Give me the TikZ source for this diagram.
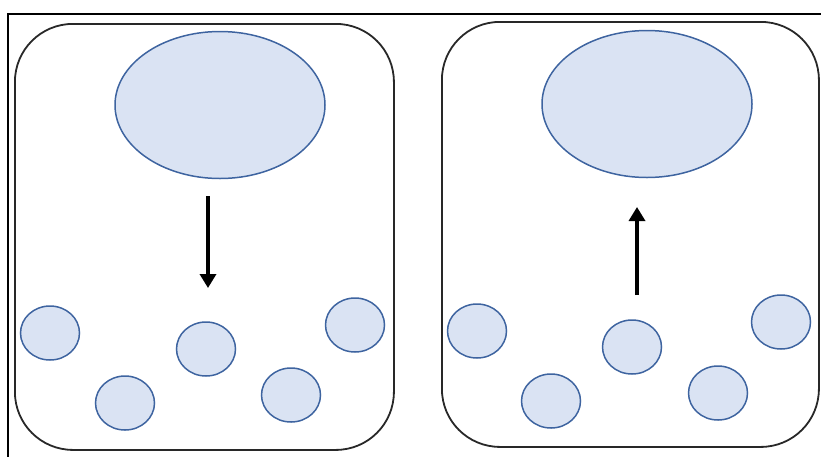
\documentclass[tikz,border=0pt]{standalone}
\usetikzlibrary{shapes.geometric,arrows.meta}
\definecolor{cellfill}{RGB}{218,227,243}
\definecolor{cellline}{RGB}{62,100,160}
\definecolor{boxline}{RGB}{40,40,40}
\tikzset{
  panel/.style={draw=boxline,line width=1.8pt,rounded corners=58pt,inner sep=0pt,anchor=north west},
  bigcell/.style={ellipse,draw=cellline,fill=cellfill,line width=1.5pt,inner sep=0pt,minimum width=210pt,minimum height=147pt},
  smallcell/.style={ellipse,draw=cellline,fill=cellfill,line width=1.5pt,inner sep=0pt,minimum width=59pt,minimum height=54pt},
  flow/.style={line width=3.4pt,-{Triangle[width=16pt,length=14pt]}}
}
\begin{document}
\begin{tikzpicture}[x=1pt,y=-1pt]
\useasboundingbox (0,0) rectangle (821,456);
\coordinate (fbl) at (8,458);
\coordinate (ftl) at (8,14);
\coordinate (ftr) at (823,14);
\draw[line width=2.6pt] (fbl) -- (ftl) -- (ftr);
% panels
\node[panel,minimum width=379pt,minimum height=426pt] (pl) at (14,23) {};
\node[panel,minimum width=377pt,minimum height=425pt] (pr) at (441,21) {};
% big cells
\node[bigcell] (bl) at (220,105) {};
\node[bigcell] (br) at (647,104) {};
% small cells left
\node[smallcell] (l1) at (50,333) {};
\node[smallcell] (l2) at (125,403) {};
\node[smallcell] (l3) at (206,349) {};
\node[smallcell] (l4) at (291,395) {};
\node[smallcell] (l5) at (355,325) {};
% small cells right
\node[smallcell] (r1) at (477,331) {};
\node[smallcell] (r2) at (551,401) {};
\node[smallcell] (r3) at (632,347) {};
\node[smallcell] (r4) at (718,393) {};
\node[smallcell] (r5) at (781,322) {};
% arrows
\coordinate (a1s) at (208,196);
\coordinate (a1e) at (208,288);
\coordinate (a2s) at (637,295);
\coordinate (a2e) at (637,207);
\draw[flow] (a1s) -- (a1e);
\draw[flow] (a2s) -- (a2e);
\end{tikzpicture}
\end{document}
